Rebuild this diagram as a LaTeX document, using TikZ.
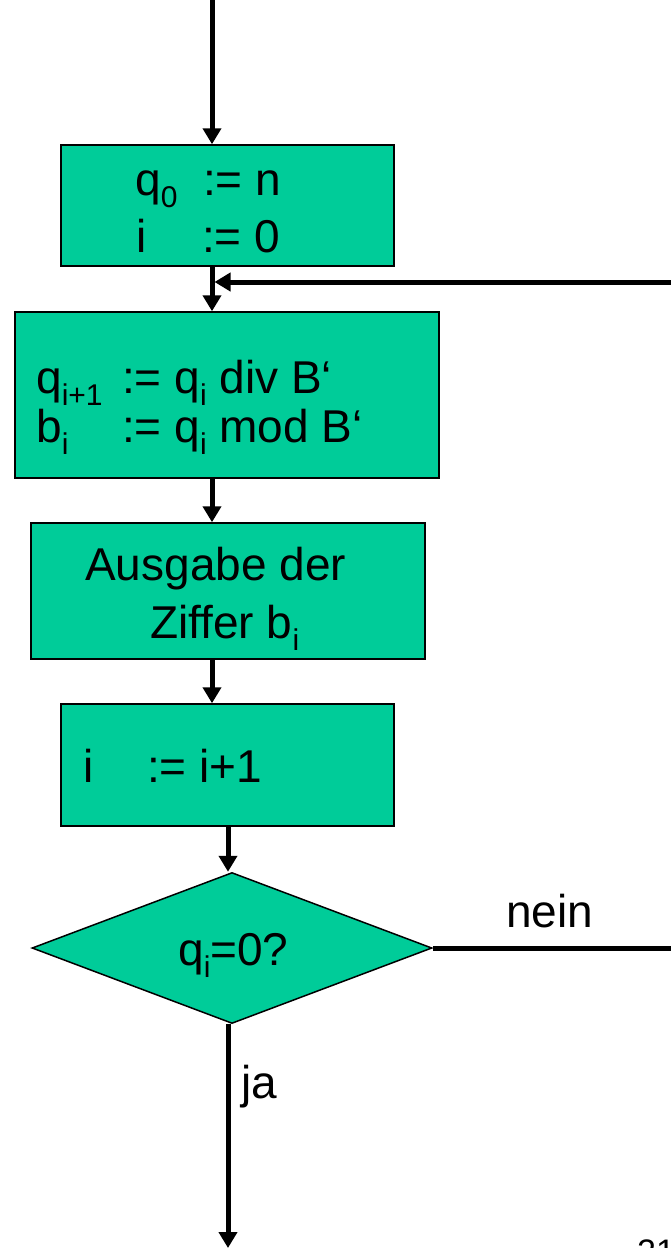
\documentclass[tikz,border=0pt]{standalone}
\usepackage{fontspec}
\setmainfont{Liberation Sans}
\usetikzlibrary{arrows.meta,shapes.geometric}
\definecolor{boxfill}{RGB}{0,204,153}
\newcommand\sbs[1]{\raisebox{-12pt}{\fontsize{30}{30}\selectfont #1}}
\begin{document}
\begin{tikzpicture}[x=1pt,y=-1pt,
  stepbox/.style={draw=black,line width=1.5pt,fill=boxfill,rectangle,inner sep=0pt},
  txt/.style={anchor=base west,inner sep=0pt,font=\fontsize{46}{46}\selectfont},
  conn/.style={line width=5pt,draw=black},
  arr/.style={conn,-{Triangle[length=16pt,width=18pt]}}]
\useasboundingbox (0,0) rectangle (671,1248);
% boxes
\node[stepbox,minimum width=333pt,minimum height=121pt] (b1) at (227.5,205.5) {};
\node[stepbox,minimum width=424pt,minimum height=166pt] (b2) at (227,395) {};
\node[stepbox,minimum width=394pt,minimum height=136pt] (b3) at (228,591) {};
\node[stepbox,minimum width=333pt,minimum height=122pt] (b4) at (227.5,765) {};
\node[draw=black,line width=1.5pt,fill=boxfill,diamond,inner sep=0pt,minimum width=400pt,minimum height=151pt] (dia) at (232,948) {};
% coordinates
\coordinate (cx) at (212,0);
\coordinate (cy) at (228,0);
\coordinate (top) at (212,0);
\coordinate (retR) at (671,282);
\coordinate (neinR) at (671,948);
\coordinate (bot) at (228,1248);
% connectors
\draw[arr] (top) -- (b1.north -| cx);
\draw[arr] (b1.south -| cx) -- (b2.north -| cx);
\draw[arr,shorten >=2.5pt] (retR) -- (cx |- retR);
\draw[arr] (b2.south -| cx) -- (b3.north -| cx);
\draw[arr] (b3.south -| cx) -- (b4.north -| cx);
\draw[arr] (b4.south -| cy) -- (cy |- dia.north);
\draw[conn] (dia.east) -- (neinR |- dia.east);
\draw[arr] (cy |- dia.south) -- (bot);
% texts
\node[txt] (t1a) at (135,195) {q\sbs{0}};
\node[txt] (t1b) at (203,195) {:= n};
\node[txt] (t1c) at (136,252) {i};
\node[txt] (t1d) at (202,252) {:= 0};
\node[txt] (t2a) at (36,393) {q\sbs{i+1}};
\node[txt] (t2b) at (122,393) {:= q\sbs{i} div B‘};
\node[txt] (t2c) at (36,442) {b\sbs{i}};
\node[txt] (t2d) at (122,442) {:= q\sbs{i} mod B‘};
\node[txt] (t3a) at (85,580) {Ausgabe der};
\node[txt] (t3b) at (150,638) {Ziffer b\sbs{i}};
\node[txt] (t4a) at (83,782) {i};
\node[txt] (t4b) at (147,782) {:= i+1};
\node[txt] (t5) at (178,965) {q\sbs{i}=0?};
\node[txt] (nein) at (506,927) {nein};
\node[txt] (ja) at (241,1098) {ja};
\node[txt,font=\fontsize{34}{34}\selectfont] (pg) at (637,1263) {21};
\end{tikzpicture}
\end{document}
